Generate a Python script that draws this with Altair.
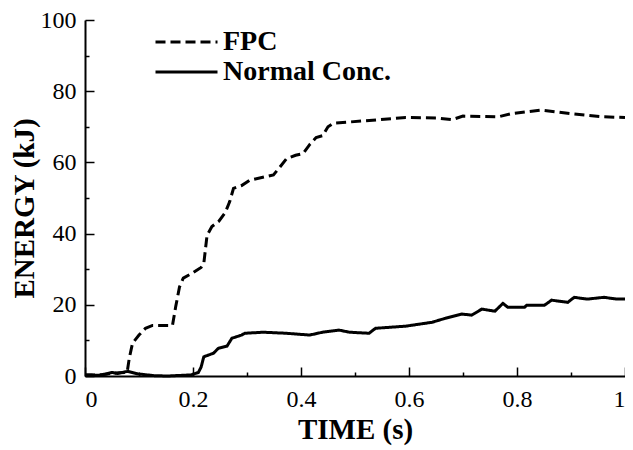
import altair as alt
import pandas as pd

fpc_t = [0, 0.03, 0.05, 0.078, 0.082, 0.088, 0.1, 0.112, 0.125, 0.162, 0.168, 0.175, 0.182, 0.2, 0.215,
         0.22, 0.226, 0.235, 0.248, 0.26, 0.268, 0.275, 0.29, 0.305, 0.335, 0.349, 0.36, 0.373, 0.39,
         0.404, 0.416, 0.428, 0.44, 0.45, 0.46, 0.52, 0.594, 0.65, 0.68, 0.70, 0.765, 0.79, 0.845,
         0.9, 0.96, 1.0]
fpc_e = [0.3, 0.3, 0.8, 1.0, 5, 9.2, 11.5, 13.4, 14.2, 14.2, 19.5, 25, 27.5, 29, 30.5,
         31.6, 39.5, 42, 43.5, 46, 49, 52.7, 53.5, 55, 56, 56.5, 58.5, 61, 62,
         62.5, 65, 67, 67.5, 70, 71, 71.7, 72.6, 72.5, 72, 73, 72.8, 73.7, 74.7,
         73.7, 72.8, 72.6]

norm_t = [0, 0.024, 0.04, 0.05, 0.06, 0.079, 0.097, 0.128, 0.153, 0.196, 0.21, 0.215, 0.22, 0.238,
          0.247, 0.263, 0.272, 0.29, 0.296, 0.33, 0.373, 0.416, 0.44, 0.47, 0.49, 0.526, 0.538,
          0.594, 0.643, 0.667, 0.698, 0.716, 0.735, 0.759, 0.774, 0.783, 0.814, 0.818, 0.851,
          0.864, 0.894, 0.906, 0.93, 0.961, 0.985, 1.0]
norm_e = [0.3, 0.2, 0.6, 1.0, 0.7, 1.3, 0.6, 0.1, 0.0, 0.3, 1.0, 2.5, 5.4, 6.4,
          7.8, 8.4, 10.6, 11.5, 12.0, 12.3, 12.0, 11.5, 12.3, 12.9, 12.3, 12.0, 13.4,
          14.0, 15.1, 16.2, 17.4, 17.1, 18.8, 18.2, 20.4, 19.3, 19.3, 19.9, 19.9,
          21.3, 20.7, 22.1, 21.6, 22.1, 21.6, 21.6]

series_names = ["FPC", "Normal Conc."]
x_major = [0, 0.2, 0.4, 0.6, 0.8, 1.0]
x_minor = [0.1, 0.3, 0.5, 0.7, 0.9]
y_major = [0, 20, 40, 60, 80, 100]
y_minor = [10, 30, 50, 70, 90]

df = pd.concat([
    pd.DataFrame({"t": fpc_t, "e": fpc_e, "series": series_names[0]}),
    pd.DataFrame({"t": norm_t, "e": norm_e, "series": series_names[1]}),
])

W, H = 540, 356
FONT = "Liberation Serif, Times New Roman, Times, DejaVu Serif, serif"

xs = alt.Scale(domain=[0, 1], nice=False, zero=False)
ys = alt.Scale(domain=[0, 100], nice=False)

lines = alt.Chart(df).mark_line(strokeWidth=3, color="black").encode(
    x=alt.X("t:Q", scale=xs, axis=alt.Axis(
        orient="bottom", values=x_major, format="~g", ticks=False, tickSize=0,
        labelPadding=11, labelFont=FONT, labelFontSize=24, labelColor="black",
        domainColor="black", domainWidth=2, grid=False,
        title="TIME (s)", titleFont=FONT, titleFontSize=29, titleFontWeight="bold",
        titleColor="black", titleBaseline="alphabetic", titleY=62, titleX=270)),
    y=alt.Y("e:Q", scale=ys, axis=alt.Axis(
        orient="left", values=y_major, format="d", ticks=False, tickSize=0,
        labelPadding=9, labelFont=FONT, labelFontSize=24, labelColor="black",
        domainColor="black", domainWidth=2, grid=False,
        title="ENERGY (kJ)", titleFont=FONT, titleFontSize=29, titleFontWeight="bold",
        titleColor="black", titleAngle=-90, titleBaseline="alphabetic",
        titleX=-52, titleY=188, titleAlign="center")),
    strokeDash=alt.StrokeDash("series:N", scale=alt.Scale(
        domain=series_names, range=[[10, 5], [1, 0]]),
        legend=alt.Legend(orient="none", legendX=69, legendY=7, title=None,
                          symbolType="stroke", symbolSize=3844, symbolStrokeWidth=3,
                          symbolStrokeColor="black", labelFont=FONT, labelFontSize=28,
                          labelFontWeight="bold", labelColor="black", labelOffset=4,
                          labelLimit=400, clipHeight=30, rowPadding=0, padding=0)),
)

major = alt.Chart(df).mark_line(opacity=0).encode(
    x=alt.X("t:Q", scale=xs, axis=alt.Axis(
        orient="top", offset=-H, values=x_major, labels=False, domain=False,
        ticks=True, tickSize=9, tickWidth=1.5, tickColor="black", grid=False, title=None)),
    y=alt.Y("e:Q", scale=ys, axis=alt.Axis(
        orient="right", offset=-W, values=y_major, labels=False, domain=False,
        ticks=True, tickSize=9, tickWidth=1.5, tickColor="black", grid=False, title=None)),
    detail="series:N",
)

minor = alt.Chart(df).mark_line(opacity=0).encode(
    x=alt.X("t:Q", scale=xs, axis=alt.Axis(
        orient="top", offset=-H, values=x_minor, labels=False, domain=False,
        ticks=True, tickSize=4, tickWidth=1.5, tickColor="black", grid=False, title=None)),
    y=alt.Y("e:Q", scale=ys, axis=alt.Axis(
        orient="right", offset=-W, values=y_minor, labels=False, domain=False,
        ticks=True, tickSize=4, tickWidth=1.5, tickColor="black", grid=False, title=None)),
    detail="series:N",
)

chart = alt.layer(lines, major, minor).resolve_axis(x="independent", y="independent").properties(
    width=W, height=H,
    autosize=alt.AutoSizeParams(type="none"),
    padding={"left": 77, "top": 12, "right": 0, "bottom": 70},
    background="white",
).configure_view(stroke=None)

chart.save("out.html", embed_options={"renderer": "svg", "actions": False})
